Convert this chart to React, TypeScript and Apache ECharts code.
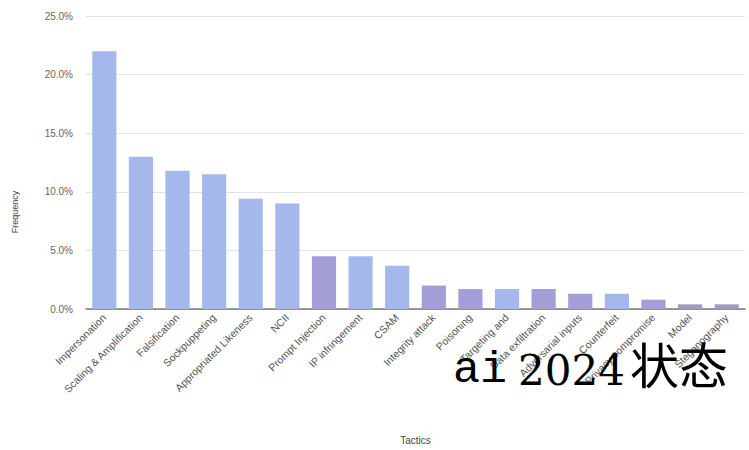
import React, { useEffect, useRef } from "react";
import * as echarts from "echarts";

const categories = [
  "Impersonation",
  "Scaling & Amplification",
  "Falsification",
  "Sockpuppeting",
  "Appropriated Likeness",
  "NCII",
  "Prompt Injection",
  "IP infringement",
  "CSAM",
  "Integrity attack",
  "Poisoning",
  "Targeting and",
  "Data exfiltration",
  "Adversarial inputs",
  "Counterfeit",
  "Privacy compromise",
  "Model",
  "Steganography",
];

const frequency = [22.0, 13.0, 11.8, 11.5, 9.4, 9.0, 4.5, 4.5, 3.7, 2.0, 1.7, 1.7, 1.7, 1.3, 1.3, 0.8, 0.4, 0.4];

const barColors = [
  "#a5b8ec", "#a5b8ec", "#a5b8ec", "#a5b8ec", "#a5b8ec", "#a5b8ec",
  "#a39fd6", "#a5b8ec", "#a5b8ec", "#a39fd6", "#a39fd6", "#a5b8ec",
  "#a39fd6", "#a39fd6", "#a5b8ec", "#a39fd6", "#9e9cbc", "#9e9cbc",
];

const yTicks = [0, 5, 10, 15, 20, 25];

const FONT = "Liberation Sans, Arial, sans-serif";

export default function App() {
  const ref = useRef<HTMLDivElement>(null);
  useEffect(() => {
    if (!ref.current) return;
    const chart = echarts.init(ref.current, null, { renderer: "svg" });
    chart.setOption({
      animation: false,
      backgroundColor: "#ffffff",
      grid: { left: 86, right: 4, top: 16, bottom: 139, containLabel: false },
      xAxis: {
        type: "category",
        data: categories,
        name: "Tactics",
        nameLocation: "middle",
        nameGap: 126,
        nameTextStyle: { color: "#444", fontSize: 10, fontFamily: FONT },
        axisLine: { lineStyle: { color: "#777", width: 1.5 } },
        axisTick: { show: false },
        axisLabel: {
          interval: 0,
          rotate: 45,
          color: "#555",
          fontSize: 10.5,
          fontFamily: FONT,
          margin: 7,
        },
      },
      yAxis: {
        type: "value",
        min: yTicks[0],
        max: yTicks[yTicks.length - 1],
        interval: 5,
        axisLine: { show: false },
        axisTick: { show: false },
        splitLine: { lineStyle: { color: "#e2e2e2", width: 1 } },
        axisLabel: {
          color: "#666",
          fontSize: 10,
          fontFamily: FONT,
          margin: 13,
          formatter: (v: number) => v.toFixed(1) + "%",
        },
      },
      series: [
        {
          type: "bar",
          data: frequency.map((v, i) => ({ value: v, itemStyle: { color: barColors[i] } })),
          barWidth: "66%",
        },
      ],
      graphic: [
        {
          type: "text",
          x: 15,
          y: 212,
          rotation: Math.PI / 2,
          style: {
            text: "Frequency",
            fill: "#444",
            fontSize: 9,
            fontFamily: FONT,
            align: "center",
            verticalAlign: "middle",
          },
        },
        {
          type: "text",
          x: 453,
          y: 393,
          z: 100,
          style: {
            text: "ai",
            fill: "#000",
            fontSize: 45,
            fontFamily: "Liberation Mono, DejaVu Sans Mono, monospace",
            verticalAlign: "bottom",
          },
        },
        {
          type: "text",
          x: 518,
          y: 391,
          z: 100,
          style: {
            text: "2024",
            fill: "#000",
            fontSize: 42,
            fontFamily: "DejaVu Serif, serif",
            verticalAlign: "bottom",
          },
        },
        {
          type: "text",
          x: 630,
          y: 387,
          z: 100,
          style: {
            text: "状态",
            fill: "#000",
            fontSize: 49,
            fontFamily: "Noto Sans CJK SC, sans-serif",
            verticalAlign: "bottom",
          },
        },
      ],
    });
    return () => chart.dispose();
  }, []);
  return <div ref={ref} style={{ width: 749, height: 450, position: "absolute", left: 0, top: 0 }} />;
}
